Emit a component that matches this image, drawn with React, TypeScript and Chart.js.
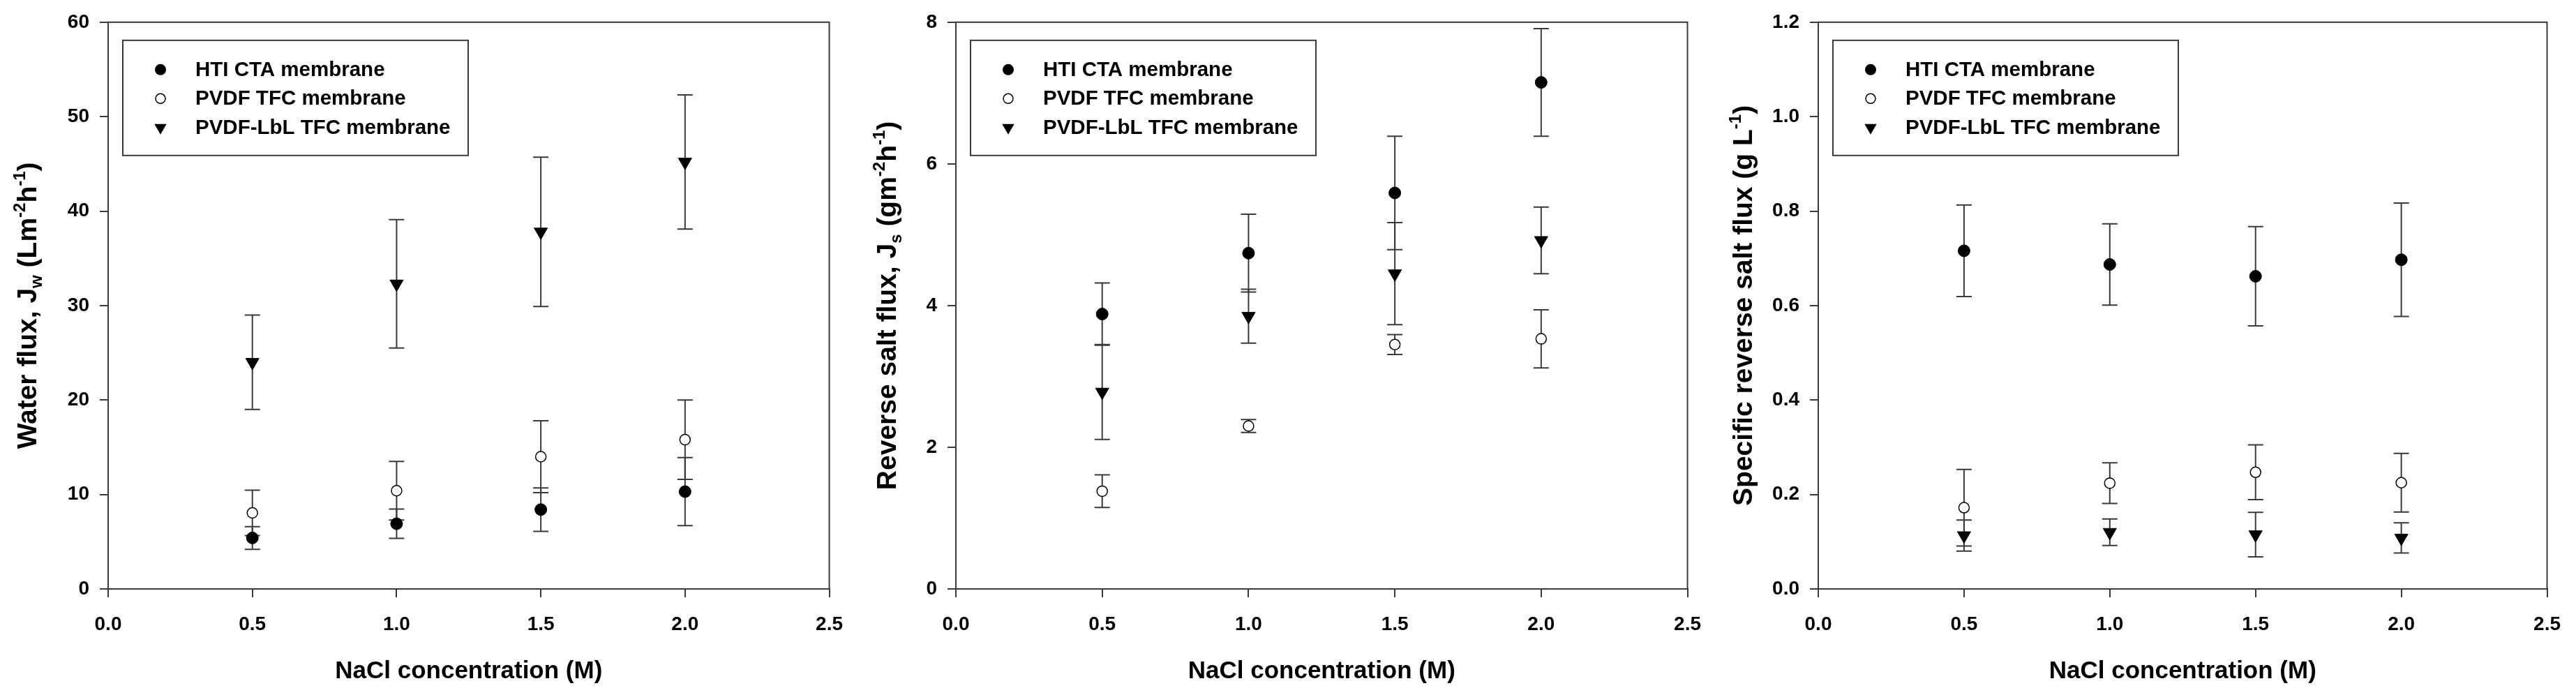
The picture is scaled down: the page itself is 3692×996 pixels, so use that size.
import React, { useEffect, useRef } from 'react';
import { Chart, registerables } from 'chart.js';

Chart.register(...registerables);

// NaCl concentration (M)
const concentrations = [0.5, 1.0, 1.5, 2.0];
const seriesNames = ['HTI CTA membrane', 'PVDF TFC membrane', 'PVDF-LbL TFC membrane'];
const xTitle = 'NaCl concentration (M)';

// Water flux, Jw (L m-2 h-1)
const waterHti = [5.4, 6.9, 8.4, 10.3];
const waterHtiErr = [1.2, 1.55, 2.3, 3.6];
const waterPvdf = [8.05, 10.4, 14.0, 15.8];
const waterPvdfErr = [2.4, 3.1, 3.8, 4.2];
const waterLbl = [24.0, 32.3, 37.8, 45.2];
const waterLblErr = [5.0, 6.8, 7.9, 7.1];

// Reverse salt flux, Js (g m-2 h-1)
const saltHti = [3.88, 4.74, 5.59, 7.15];
const saltHtiErr = [0.44, 0.55, 0.8, 0.76];
const saltPvdf = [1.38, 2.3, 3.45, 3.53];
const saltPvdfErr = [0.23, 0.09, 0.14, 0.41];
const saltLbl = [2.78, 3.85, 4.45, 4.92];
const saltLblErr = [0.67, 0.38, 0.72, 0.47];

// Specific reverse salt flux (g L-1)
const specHti = [0.716, 0.687, 0.662, 0.697];
const specHtiErr = [0.097, 0.086, 0.105, 0.12];
const specPvdf = [0.172, 0.224, 0.247, 0.225];
const specPvdfErr = [0.081, 0.043, 0.058, 0.062];
const specLbl = [0.113, 0.12, 0.115, 0.108];
const specLblErr = [0.033, 0.028, 0.047, 0.032];

type Seg = { t: string; s?: 'sub' | 'sup' };
type Marker = 'filled' | 'open' | 'tri';

const waterTitle: Seg[] = [{ t: 'Water flux, J' }, { t: 'w', s: 'sub' }, { t: ' (Lm' }, { t: '-2', s: 'sup' }, { t: 'h' }, { t: '-1', s: 'sup' }, { t: ')' }];
const saltTitle: Seg[] = [{ t: 'Reverse salt flux, J' }, { t: 's', s: 'sub' }, { t: ' (gm' }, { t: '-2', s: 'sup' }, { t: 'h' }, { t: '-1', s: 'sup' }, { t: ')' }];
const specTitle: Seg[] = [{ t: 'Specific reverse salt flux (g L' }, { t: '-1', s: 'sup' }, { t: ')' }];

const FONT = '"Liberation Sans", Arial, Helvetica, sans-serif';
const AXIS = '#3a3a3a';
const markers: Marker[] = ['filled', 'open', 'tri'];

interface PanelSpec {
  width: number;
  yAxisWidth: number;
  padRight: number;
  yMax: number;
  yStep: number;
  yDecimals: number;
  yTitle: Seg[];
  yTitleX: number;
  means: number[][];
  errs: number[][];
}

function drawMarker(ctx: CanvasRenderingContext2D, kind: Marker, x: number, y: number, r: number) {
  ctx.save();
  ctx.beginPath();
  if (kind === 'tri') {
    ctx.moveTo(x - r * 0.866, y - r * 0.5);
    ctx.lineTo(x + r * 0.866, y - r * 0.5);
    ctx.lineTo(x, y + r);
    ctx.closePath();
    ctx.fillStyle = '#000';
    ctx.fill();
  } else {
    ctx.arc(x, y, r, 0, Math.PI * 2);
    if (kind === 'filled') {
      ctx.fillStyle = '#000';
      ctx.fill();
    } else {
      ctx.fillStyle = '#fff';
      ctx.fill();
      ctx.lineWidth = 1.5;
      ctx.strokeStyle = '#000';
      ctx.stroke();
    }
  }
  ctx.restore();
}

function drawRich(ctx: CanvasRenderingContext2D, segs: Seg[], size: number) {
  const full = `bold ${size}px ${FONT}`;
  const small = `bold ${Math.round(size * 0.62)}px ${FONT}`;
  let total = 0;
  segs.forEach(s => {
    ctx.font = s.s ? small : full;
    total += ctx.measureText(s.t).width;
  });
  let x = -total / 2;
  const base = size * 0.36;
  segs.forEach(s => {
    ctx.font = s.s ? small : full;
    const dy = s.s === 'sup' ? -size * 0.42 : s.s === 'sub' ? size * 0.2 : 0;
    ctx.fillText(s.t, x, base + dy);
    x += ctx.measureText(s.t).width;
  });
}

function makeDecor(spec: PanelSpec) {
  return {
    id: 'panelDecor',
    beforeDatasetsDraw(chart: Chart) {
      const { ctx, chartArea: a, scales } = chart;
      const xs = scales.x;
      const ys = scales.y;
      ctx.save();
      ctx.strokeStyle = AXIS;
      ctx.lineWidth = 2;
      ctx.strokeRect(a.left, a.top, a.right - a.left, a.bottom - a.top);
      // error bars
      spec.means.forEach((m, i) => {
        m.forEach((v, j) => {
          const px = xs.getPixelForValue(concentrations[j]);
          const yt = ys.getPixelForValue(v + spec.errs[i][j]);
          const yb = ys.getPixelForValue(v - spec.errs[i][j]);
          ctx.beginPath();
          ctx.moveTo(px, yt);
          ctx.lineTo(px, yb);
          ctx.moveTo(px - 11, yt);
          ctx.lineTo(px + 11, yt);
          ctx.moveTo(px - 11, yb);
          ctx.lineTo(px + 11, yb);
          ctx.stroke();
        });
      });
      ctx.restore();
    },
    afterDraw(chart: Chart) {
      const { ctx, chartArea: a } = chart;
      ctx.save();
      // legend
      const bx = a.left + 21;
      const by = a.top + 26;
      ctx.fillStyle = '#fff';
      ctx.fillRect(bx, by, 495, 165);
      ctx.strokeStyle = AXIS;
      ctx.lineWidth = 2;
      ctx.strokeRect(bx, by, 495, 165);
      seriesNames.forEach((name, i) => {
        const cy = by + 42 + i * 41.5;
        drawMarker(ctx, markers[i], bx + 54, cy, markers[i] === 'tri' ? 10 : markers[i] === 'open' ? 7 : 8);
        ctx.fillStyle = '#000';
        ctx.font = `bold 29.5px ${FONT}`;
        ctx.textBaseline = 'middle';
        ctx.textAlign = 'left';
        ctx.fillText(name, bx + 104, cy + 1);
      });
      // x title
      ctx.textAlign = 'center';
      ctx.textBaseline = 'middle';
      ctx.font = `bold 35px ${FONT}`;
      ctx.fillText(xTitle, (a.left + a.right) / 2, 962);
      // y title
      ctx.translate(spec.yTitleX, (a.top + a.bottom) / 2);
      ctx.rotate(-Math.PI / 2);
      ctx.textAlign = 'left';
      ctx.textBaseline = 'alphabetic';
      drawRich(ctx, spec.yTitle, 39);
      ctx.restore();
    },
  };
}

const Panel: React.FC<{ spec: PanelSpec }> = ({ spec }) => {
  const ref = useRef<HTMLCanvasElement>(null);

  useEffect(() => {
    if (!ref.current) return;
    const tickFont = { family: FONT, size: 28, weight: 'bold' as const };
    const chart = new Chart(ref.current, {
      type: 'scatter',
      data: {
        datasets: spec.means.map((m, i) => ({
          label: seriesNames[i],
          data: concentrations.map((x, j) => ({ x, y: m[j] })),
          pointStyle: markers[i] === 'tri' ? 'triangle' : 'circle',
          rotation: markers[i] === 'tri' ? 180 : 0,
          pointRadius: markers[i] === 'tri' ? 11 : markers[i] === 'open' ? 7.5 : 8.5,
          pointBackgroundColor: markers[i] === 'open' ? '#fff' : '#000',
          pointBorderColor: '#000',
          pointBorderWidth: markers[i] === 'open' ? 1.5 : 1,
          showLine: false,
        })),
      },
      options: {
        animation: false,
        responsive: true,
        maintainAspectRatio: false,
        layout: { padding: { left: 0, right: spec.padRight, top: 27, bottom: 0 } },
        plugins: { legend: { display: false }, tooltip: { enabled: false } },
        scales: {
          x: {
            type: 'linear',
            min: 0,
            max: 2.5,
            ticks: { stepSize: 0.5, color: '#000', font: tickFont, padding: 22, maxRotation: 0, callback: v => Number(v).toFixed(1) },
            grid: { drawOnChartArea: false, drawTicks: true, tickLength: 12, tickColor: AXIS, lineWidth: 2 },
            border: { display: true, color: AXIS, width: 2 },
            afterFit: s => { s.height = 152; },
          },
          y: {
            type: 'linear',
            min: 0,
            max: spec.yMax,
            ticks: { stepSize: spec.yStep, color: '#000', font: tickFont, padding: 15, callback: v => Number(v).toFixed(spec.yDecimals) },
            grid: { drawOnChartArea: false, drawTicks: true, tickLength: 12, tickColor: AXIS, lineWidth: 2 },
            border: { display: true, color: AXIS, width: 2 },
            afterFit: s => { s.width = spec.yAxisWidth; },
          },
        },
      },
      plugins: [makeDecor(spec)],
    });
    return () => chart.destroy();
  }, [spec]);

  return (
    <div style={{ position: 'relative', width: spec.width, height: 996, flex: 'none' }}>
      <canvas ref={ref}></canvas>
    </div>
  );
};

const panels: PanelSpec[] = [
  {
    width: 1230, yAxisWidth: 155, padRight: 25, yMax: 60, yStep: 10, yDecimals: 0,
    yTitle: waterTitle, yTitleX: 38,
    means: [waterHti, waterPvdf, waterLbl], errs: [waterHtiErr, waterPvdfErr, waterLblErr],
  },
  {
    width: 1230, yAxisWidth: 140, padRight: 26, yMax: 8, yStep: 2, yDecimals: 0,
    yTitle: saltTitle, yTitleX: 40,
    means: [saltHti, saltPvdf, saltLbl], errs: [saltHtiErr, saltPvdfErr, saltLblErr],
  },
  {
    width: 1232, yAxisWidth: 146, padRight: 34, yMax: 1.2, yStep: 0.2, yDecimals: 1,
    yTitle: specTitle, yTitleX: 37,
    means: [specHti, specPvdf, specLbl], errs: [specHtiErr, specPvdfErr, specLblErr],
  },
];

export default function App() {
  return (
    <div style={{ position: 'absolute', left: 0, top: 0, width: 3692, height: 996, display: 'flex', background: '#fff' }}>
      {panels.map((p, i) => <Panel key={i} spec={p} />)}
    </div>
  );
}
